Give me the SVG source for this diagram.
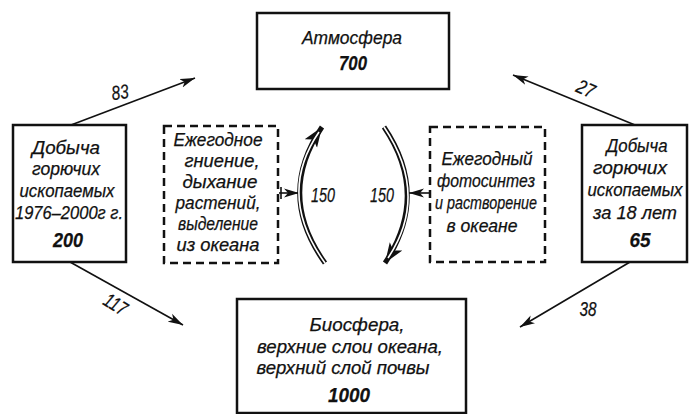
<svg xmlns="http://www.w3.org/2000/svg" width="694" height="414" viewBox="0 0 694 414">
<defs>
<style>
.t{font-family:"Liberation Sans","DejaVu Sans",sans-serif;font-style:italic;font-size:18px;fill:#111;stroke:#111;stroke-width:0.25;text-anchor:middle}
.n{font-size:20px}
.b{font-weight:bold;font-size:21px}
.box{fill:#fff;stroke:#111;stroke-width:2.5}
.dash{fill:none;stroke:#111;stroke-width:2.5;stroke-dasharray:8 5}
.ln{fill:none;stroke:#111;stroke-width:1.6}
.arcO{fill:none;stroke:#111;stroke-width:5}
.arcI{fill:none;stroke:#fff;stroke-width:1.6}
</style>
<marker id="ah" markerUnits="userSpaceOnUse" markerWidth="16" markerHeight="10" refX="15" refY="5" orient="auto">
<path d="M0,0.5 L15,5 L0,9.5 L4,5 z" fill="#111"/>
</marker>
<marker id="ahb" markerUnits="userSpaceOnUse" markerWidth="22" markerHeight="16" refX="20" refY="8" orient="auto">
<path d="M0,0.5 L20,8 L0,15.5 L5,8 z" fill="#111"/>
</marker>
</defs>

<g id="connectors">
<line class="ln" x1="71" y1="125" x2="195" y2="78" marker-end="url(#ah)"/>
<line class="ln" x1="635" y1="125" x2="513" y2="75" marker-end="url(#ah)"/>
<line class="ln" x1="70" y1="262" x2="183" y2="325" marker-end="url(#ah)"/>
<line class="ln" x1="630" y1="262" x2="520" y2="327" marker-end="url(#ah)"/>
<line class="ln" x1="279" y1="193" x2="299" y2="193" marker-end="url(#ah)"/>
<line class="ln" x1="281" y1="187" x2="281" y2="199"/>
<line class="ln" x1="429" y1="193" x2="409" y2="193" marker-end="url(#ah)"/>
<path class="arcO" d="M325,263 Q276,195 322,127" marker-end="url(#ahb)"/>
<path class="arcI" d="M325,263 Q276,195 319,132"/>
<path class="arcO" d="M384,127 Q430,195 385,263" marker-end="url(#ahb)"/>
<path class="arcI" d="M384,127 Q430,195 388,258"/>
<text class="t n" x="121" y="99" transform="rotate(-8 121 99)" textLength="17" lengthAdjust="spacingAndGlyphs">83</text>
<text class="t n" x="583" y="95" transform="rotate(24 583 95)" textLength="18" lengthAdjust="spacingAndGlyphs">27</text>
<text class="t n" x="112" y="310" transform="rotate(32 112 310)" textLength="24" lengthAdjust="spacingAndGlyphs">117</text>
<text class="t n" x="588" y="316" textLength="17" lengthAdjust="spacingAndGlyphs">38</text>
<text class="t n" x="323" y="202" textLength="24" lengthAdjust="spacingAndGlyphs">150</text>
<text class="t n" x="382" y="202" textLength="24" lengthAdjust="spacingAndGlyphs">150</text>
</g>

<g id="atmosphere">
<rect class="box" x="257" y="13" width="192" height="76"/>
<text class="t" x="352" y="44" textLength="100" lengthAdjust="spacingAndGlyphs">Атмосфера</text>
<text class="t b" x="353" y="70" textLength="28" lengthAdjust="spacingAndGlyphs">700</text>
</g>

<g id="mining-left">
<rect class="box" x="13" y="125" width="113" height="137"/>
<text class="t" x="66" y="154" textLength="68" lengthAdjust="spacingAndGlyphs">Добыча</text>
<text class="t" x="66" y="175" textLength="68" lengthAdjust="spacingAndGlyphs">горючих</text>
<text class="t" x="67" y="197" textLength="95" lengthAdjust="spacingAndGlyphs">ископаемых</text>
<text class="t" x="69" y="219" textLength="108" lengthAdjust="spacingAndGlyphs">1976–2000г г.</text>
<text class="t b" x="68" y="247" textLength="30" lengthAdjust="spacingAndGlyphs">200</text>
</g>

<g id="decay">
<rect class="dash" x="164" y="126" width="114" height="137"/>
<text class="t" x="218" y="146" textLength="89" lengthAdjust="spacingAndGlyphs">Ежегодное</text>
<text class="t" x="222" y="167" textLength="75" lengthAdjust="spacingAndGlyphs">гниение,</text>
<text class="t" x="220" y="188" textLength="75" lengthAdjust="spacingAndGlyphs">дыхание</text>
<text class="t" x="218" y="209" textLength="85" lengthAdjust="spacingAndGlyphs">растений,</text>
<text class="t" x="218" y="230" textLength="80" lengthAdjust="spacingAndGlyphs">выделение</text>
<text class="t" x="218" y="251" textLength="83" lengthAdjust="spacingAndGlyphs">из океана</text>
</g>

<g id="photosynthesis">
<rect class="dash" x="430" y="127" width="115" height="135"/>
<text class="t" x="487" y="165" textLength="91" lengthAdjust="spacingAndGlyphs">Ежегодный</text>
<text class="t" x="486" y="187" textLength="98" lengthAdjust="spacingAndGlyphs">фотосинтез</text>
<text class="t" x="486" y="209" textLength="102" lengthAdjust="spacingAndGlyphs">и растворение</text>
<text class="t" x="482" y="232" textLength="71" lengthAdjust="spacingAndGlyphs">в океане</text>
</g>

<g id="mining-right">
<rect class="box" x="582" y="125" width="105" height="137"/>
<text class="t" x="637" y="152" textLength="61" lengthAdjust="spacingAndGlyphs">Добыча</text>
<text class="t" x="630" y="174" textLength="74" lengthAdjust="spacingAndGlyphs">горючих</text>
<text class="t" x="635" y="196" textLength="95" lengthAdjust="spacingAndGlyphs">ископаемых</text>
<text class="t" x="635" y="219" textLength="84" lengthAdjust="spacingAndGlyphs">за 18 лет</text>
<text class="t b" x="640" y="247" textLength="21" lengthAdjust="spacingAndGlyphs">65</text>
</g>

<g id="biosphere">
<rect class="box" x="237" y="299" width="229" height="114"/>
<text class="t" x="357" y="331" textLength="95" lengthAdjust="spacingAndGlyphs">Биосфера,</text>
<text class="t" x="350" y="353" textLength="186" lengthAdjust="spacingAndGlyphs">верхние слои океана,</text>
<text class="t" x="343" y="374" textLength="173" lengthAdjust="spacingAndGlyphs">верхний слой почвы</text>
<text class="t b" x="349" y="402" textLength="42" lengthAdjust="spacingAndGlyphs">1000</text>
</g>
</svg>
